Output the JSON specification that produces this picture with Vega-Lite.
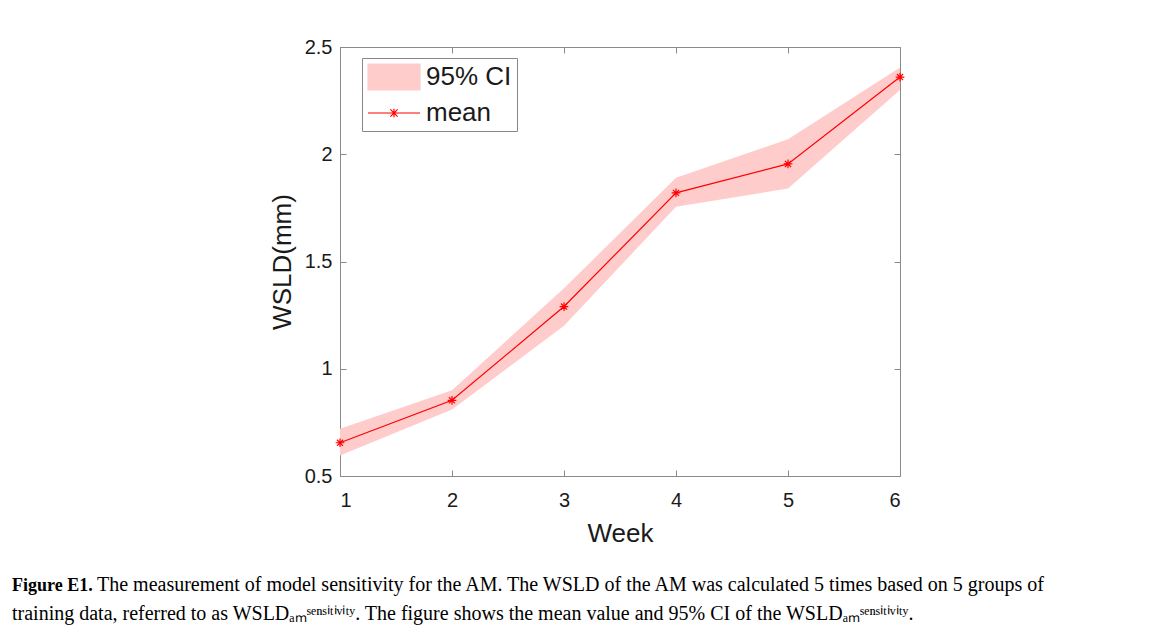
{
  "$schema": "https://vega.github.io/schema/vega-lite/v6.json",
  "width": 560,
  "height": 429,
  "autosize": "none",
  "padding": {"left": 340, "top": 47, "right": 253, "bottom": 165},
  "background": "white",
  "config": {
    "view": {"stroke": "#8a8a8a", "strokeWidth": 1},
    "font": "Liberation Sans",
    "axis": {"grid": false, "domain": false, "tickColor": "#8a8a8a", "labelColor": "#1a1a1a", "titleColor": "#1a1a1a", "labelFont": "Liberation Sans", "titleFont": "Liberation Sans", "titleFontWeight": "normal"},
    "legend": {
      "orient": "none", "legendX": 22, "legendY": 11, "title": null,
      "labelFontSize": 26, "labelFont": "Liberation Sans", "labelColor": "#1a1a1a",
      "strokeColor": "#888888", "fillColor": "white", "padding": 5,
      "symbolSize": 676, "symbolOffset": 13, "labelOffset": 18, "rowPadding": 6
    }
  },
  "title": {
    "text": "Figure E1.",
    "subtitle": [
      "\u200b\u00a0\u00a0\u00a0\u00a0\u00a0\u00a0\u00a0\u00a0\u00a0\u00a0\u00a0\u00a0\u00a0\u00a0\u00a0\u00a0\u00a0The measurement of model sensitivity for the AM. The WSLD of the AM was calculated 5 times based on 5 groups of",
      "training data, referred to as WSLD\u2090\u2098\u02e2\u1d49\u207f\u02e2\u2071\u1d57\u2071\u1d5b\u2071\u1d57\u02b8. The figure shows the mean value and 95% CI of the WSLD\u2090\u2098\u02e2\u1d49\u207f\u02e2\u2071\u1d57\u2071\u1d5b\u2071\u1d57\u02b8."
    ],
    "orient": "bottom",
    "anchor": "start",
    "frame": "group",
    "dx": -328,
    "offset": 31,
    "font": "Liberation Serif",
    "fontSize": 18,
    "fontWeight": "bold",
    "color": "black",
    "subtitleFont": "Liberation Serif",
    "subtitleFontSize": 20,
    "subtitleColor": "black",
    "subtitleLineHeight": 29,
    "subtitlePadding": -20
  },
  "data": {
    "values": [
      {"week": 1, "mean": 0.655, "lo": 0.595, "hi": 0.72},
      {"week": 2, "mean": 0.853, "lo": 0.81, "hi": 0.9},
      {"week": 3, "mean": 1.29, "lo": 1.2, "hi": 1.375},
      {"week": 4, "mean": 1.82, "lo": 1.755, "hi": 1.89},
      {"week": 5, "mean": 1.955, "lo": 1.84, "hi": 2.07},
      {"week": 6, "mean": 2.36, "lo": 2.3, "hi": 2.405}
    ]
  },
  "layer": [
    {
      "mark": {"type": "area", "opacity": 1},
      "encoding": {
        "x": {"field": "week", "type": "quantitative", "scale": {"domain": [1, 6], "nice": false, "zero": false},
          "axis": {"orient": "bottom", "title": "Week", "values": [1, 2, 3, 4, 5, 6], "format": "~g", "tickSize": -6, "labelPadding": 20, "labelFontSize": 20, "titleFontSize": 26, "titlePadding": 10}},
        "y": {"field": "lo", "type": "quantitative", "scale": {"domain": [0.5, 2.5], "nice": false, "zero": false},
          "axis": {"orient": "left", "title": "WSLD(mm)", "values": [0.5, 1, 1.5, 2, 2.5], "format": "~g", "tickSize": -6, "labelPadding": 14, "labelFontSize": 20, "titleFontSize": 26, "titlePadding": 9}},
        "y2": {"field": "hi"},
        "color": {"datum": "95% CI", "type": "nominal",
          "scale": {"domain": ["95% CI", "mean"], "range": ["#ffcccc", "#ff0000"]},
          "legend": {
            "encode": {"symbols": {"update": {
              "shape": {"signal": "datum.value === '95% CI' ? 'M-2,-1H2V1H-2Z' : 'M-2,0H2M0,-0.32V0.32M-0.28,-0.28L0.28,0.28M-0.28,0.28L0.28,-0.28'"},
              "fill": {"signal": "datum.value === '95% CI' ? '#ffcccc' : 'transparent'"},
              "stroke": {"signal": "datum.value === '95% CI' ? 'transparent' : '#ff0000'"},
              "strokeWidth": {"value": 1.2},
              "opacity": {"value": 1}
            }}}
          }}
      }
    },
    {
      "mark": {"type": "line", "strokeWidth": 1.2},
      "encoding": {
        "x": {"field": "week", "type": "quantitative",
          "axis": {"orient": "top", "title": null, "labels": false, "values": [1, 2, 3, 4, 5, 6], "tickSize": -6}},
        "y": {"field": "mean", "type": "quantitative",
          "axis": {"orient": "right", "title": null, "labels": false, "values": [0.5, 1, 1.5, 2, 2.5], "tickSize": -6}},
        "color": {"datum": "mean", "type": "nominal",
          "legend": {
            "encode": {"symbols": {"update": {
              "shape": {"signal": "datum.value === '95% CI' ? 'M-2,-1H2V1H-2Z' : 'M-2,0H2M0,-0.32V0.32M-0.28,-0.28L0.28,0.28M-0.28,0.28L0.28,-0.28'"},
              "fill": {"signal": "datum.value === '95% CI' ? '#ffcccc' : 'transparent'"},
              "stroke": {"signal": "datum.value === '95% CI' ? 'transparent' : '#ff0000'"},
              "strokeWidth": {"value": 1.2},
              "opacity": {"value": 1}
            }}}
          }}
      }
    },
    {
      "mark": {"type": "point", "filled": false, "size": 76, "strokeWidth": 1.2, "opacity": 1,
        "shape": "M0,-1V1M-1,0H1M-0.7,-0.7L0.7,0.7M-0.7,0.7L0.7,-0.7"},
      "encoding": {
        "x": {"field": "week", "type": "quantitative", "axis": null},
        "y": {"field": "mean", "type": "quantitative", "axis": null},
        "color": {"datum": "mean", "type": "nominal",
          "legend": {
            "encode": {"symbols": {"update": {
              "shape": {"signal": "datum.value === '95% CI' ? 'M-2,-1H2V1H-2Z' : 'M-2,0H2M0,-0.32V0.32M-0.28,-0.28L0.28,0.28M-0.28,0.28L0.28,-0.28'"},
              "fill": {"signal": "datum.value === '95% CI' ? '#ffcccc' : 'transparent'"},
              "stroke": {"signal": "datum.value === '95% CI' ? 'transparent' : '#ff0000'"},
              "strokeWidth": {"value": 1.2},
              "opacity": {"value": 1}
            }}}
          }}
      }
    }
  ],
  "resolve": {"axis": {"x": "independent", "y": "independent"}}
}
